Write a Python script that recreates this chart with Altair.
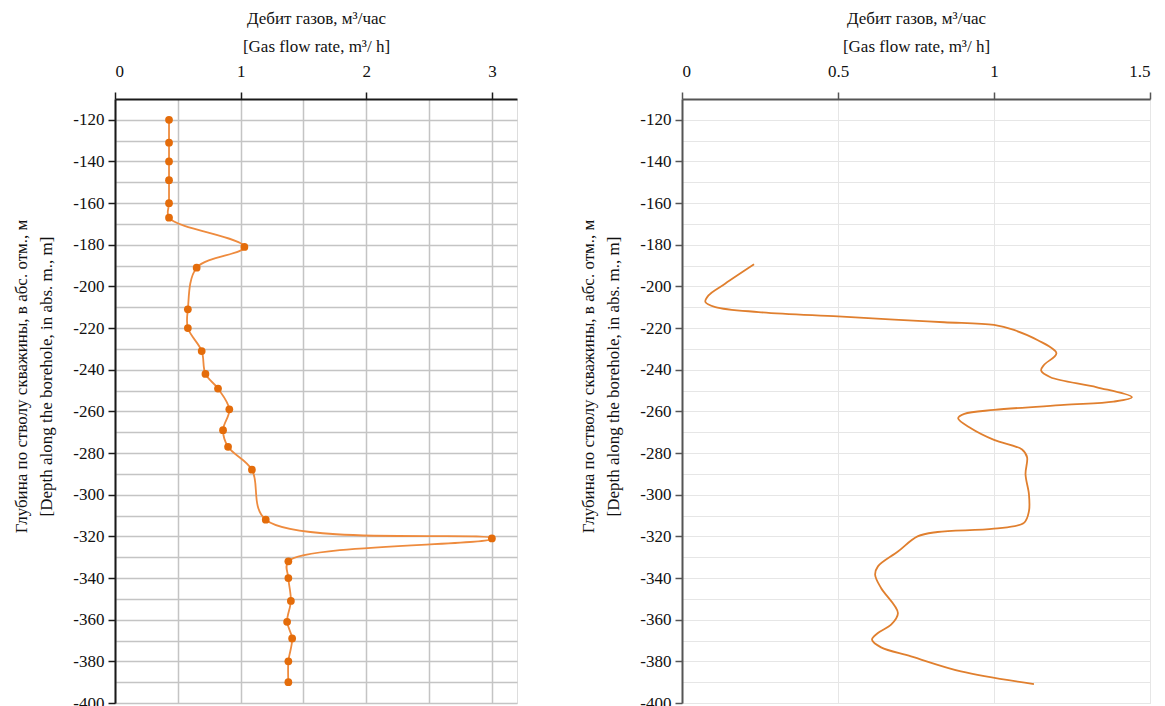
import altair as alt
import pandas as pd

# ---------------- data ----------------
left_depth = [-120, -131, -140, -149, -160, -167, -181, -191, -211, -220, -231, -242, -249,
              -259, -269, -277, -288, -312, -321, -332, -340, -351, -361, -369, -380, -390]
left_rate = [0.43, 0.43, 0.43, 0.43, 0.43, 0.43, 1.03, 0.65, 0.58, 0.58, 0.69, 0.72, 0.82,
             0.91, 0.86, 0.90, 1.09, 1.20, 3.00, 1.38, 1.38, 1.40, 1.37, 1.41, 1.38, 1.38]

right_depth = [-189.4, -198.7, -204.3, -207.5, -209.9, -212.3, -214.4, -215.9, -217.2, -218.5,
               -220.9, -225.7, -232.1, -237.7, -240.4, -243.6, -248.4, -253.2, -255.3, -256.9,
               -259.3, -261.2, -263.3, -268.1, -273.7, -278.3, -282.0, -290.2, -299.8, -307.9,
               -313.5, -316.3, -317.9, -320.0, -327.3, -334.4, -338.4, -344.8, -356.8, -362.4,
               -366.4, -369.6, -373.3, -377.6, -384.8, -390.9]
right_rate = [0.231, 0.138, 0.085, 0.075, 0.107, 0.245, 0.50, 0.68, 0.84, 1.00,
              1.064, 1.139, 1.20, 1.16, 1.151, 1.181, 1.33, 1.442, 1.383, 1.224,
              1.00, 0.905, 0.885, 0.926, 1.00, 1.09, 1.106, 1.101, 1.112, 1.112,
              1.096, 1.00, 0.819, 0.755, 0.692, 0.628, 0.619, 0.638, 0.692, 0.67,
              0.628, 0.609, 0.638, 0.734, 0.894, 1.128]

depth_ticks = list(range(-400, -110, 10))
left_x_ticks = [0, 0.5, 1, 1.5, 2, 2.5, 3]
right_x_ticks = [0, 0.5, 1, 1.5]

x_title = ["Дебит газов, м³/час", "[Gas flow rate, m³/ h]"]
y_title = ["Глубина по стволу скважины, в абс. отм., м", "[Depth along the borehole, in abs. m., m]"]

FONT = "Liberation Serif"

left_df = pd.DataFrame({"depth": left_depth, "rate": left_rate})
right_df = pd.DataFrame({"depth": right_depth, "rate": right_rate})


def y_axis(grid_color, grid_width, domain_color):
    return alt.Axis(
        orient="left",
        values=depth_ticks,
        labelExpr="datum.value % 20 === 0 ? '' + datum.value : ''",
        tickOpacity={"condition": {"test": "datum.value % 20 === 0", "value": 1}, "value": 0},
        grid=True, gridColor=grid_color, gridWidth=grid_width,
        domainColor=domain_color, domainWidth=2,
        tickColor=domain_color, tickWidth=1.5, tickSize=7,
        labelFont=FONT, labelFontSize=17, labelColor="#111111", labelPadding=4,
        title=y_title, titleFont=FONT, titleFontSize=17, titleFontWeight="normal",
        titleColor="#111111", titleAngle=270, titleX=-94, titleY=277,
        titleAlign="center", titleBaseline="middle", titleLineHeight=25,
    )


def x_axis(values, label_expr, tick_opacity, plot_w, grid_color, grid_width, domain_color):
    return alt.Axis(
        orient="top",
        values=values,
        labelExpr=label_expr,
        tickOpacity=tick_opacity,
        grid=True, gridColor=grid_color, gridWidth=grid_width,
        domainColor=domain_color, domainWidth=2,
        tickColor=domain_color, tickWidth=1.5, tickSize=7,
        labelFont=FONT, labelFontSize=17, labelColor="#111111", labelPadding=12,
        title=x_title, titleFont=FONT, titleFontSize=17, titleFontWeight="normal",
        titleColor="#111111", titleX=plot_w / 2, titleY=-81,
        titleAlign="center", titleBaseline="middle", titleLineHeight=28,
    )


LW, RW, H = 402, 468, 604

left_base = alt.Chart(left_df).encode(
    x=alt.X("rate:Q", scale=alt.Scale(domain=[0, 3.2], nice=False, zero=False),
            axis=x_axis(left_x_ticks, "datum.value % 1 === 0 ? '' + datum.value : ''",
                        {"condition": {"test": "datum.value % 1 === 0", "value": 1}, "value": 0},
                        LW, "#c4c4c4", 1.5, "#1a1a1a")),
    y=alt.Y("depth:Q", scale=alt.Scale(domain=[-400, -110], nice=False, zero=False),
            axis=y_axis("#c4c4c4", 1.5, "#1a1a1a")),
    order=alt.Order("depth:Q"),
)
left = alt.layer(
    left_base.mark_line(color="#EE8B3E", strokeWidth=1.8, interpolate="catmull-rom"),
    left_base.mark_point(filled=True, shape="circle", size=60, color="#E46C0A", opacity=1),
).properties(width=LW, height=H)

right = alt.Chart(right_df).mark_line(
    color="#E07F2E", strokeWidth=1.8, interpolate="catmull-rom"
).encode(
    x=alt.X("rate:Q", scale=alt.Scale(domain=[0, 1.5], nice=False, zero=False),
            axis=x_axis(right_x_ticks, "'' + datum.value", 1, RW, "#e6e6e6", 1, "#555555")),
    y=alt.Y("depth:Q", scale=alt.Scale(domain=[-400, -110], nice=False, zero=False),
            axis=y_axis("#e6e6e6", 1, "#555555")),
    order=alt.Order("depth:Q"),
).properties(width=RW, height=H)

chart = alt.hconcat(left, right, spacing=60).properties(
    padding={"left": 3, "top": 0, "right": 0, "bottom": 0}
).configure_view(
    stroke="#808080", strokeWidth=2
).configure_axis(
    labelFont=FONT, titleFont=FONT
).configure(font=FONT, background="white")

chart.save("out.html", embed_options={"renderer": "svg", "actions": False})
